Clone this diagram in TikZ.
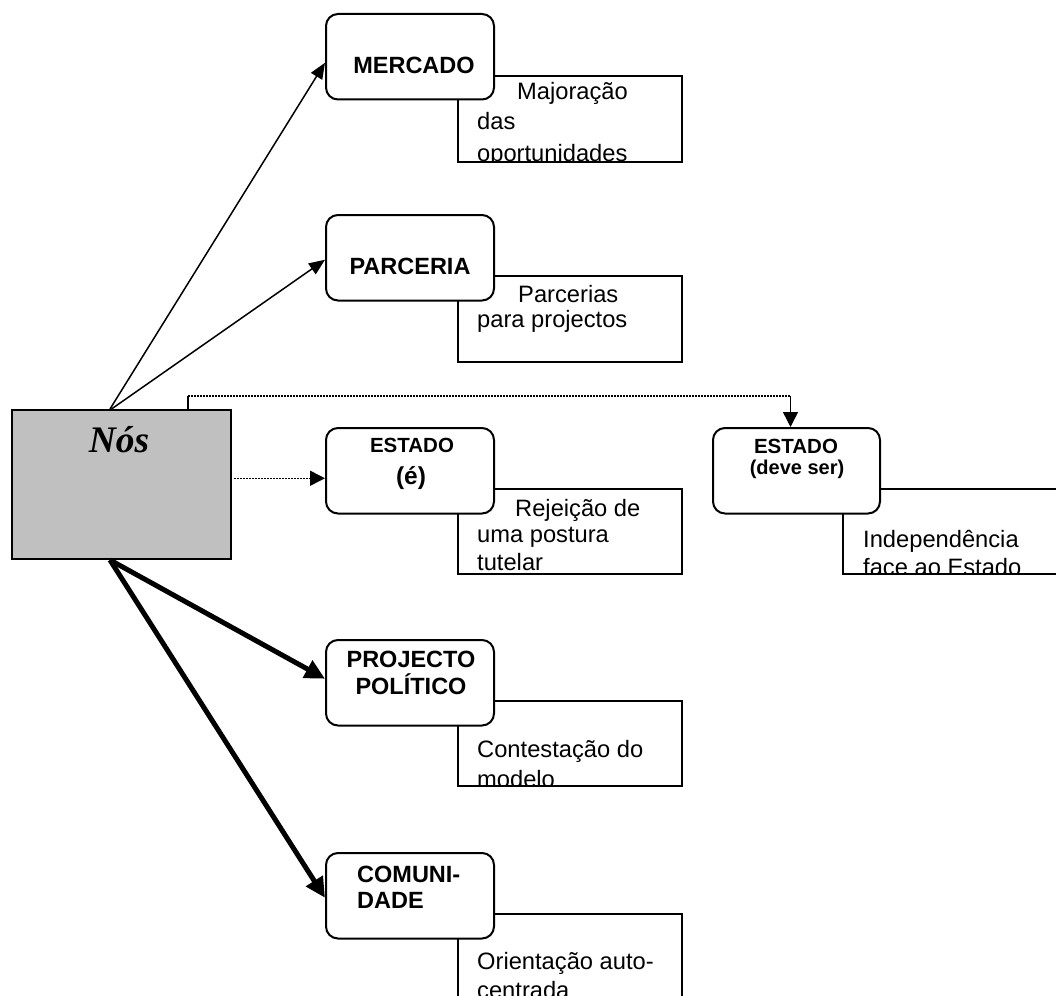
\documentclass[tikz,border=0pt]{standalone}
\usepackage{fontspec}
\setmainfont{Liberation Sans}
\newfontfamily\timesf{Liberation Serif}
\usetikzlibrary{arrows.meta}
\begin{document}
\begin{tikzpicture}[x=1pt,y=-1pt,
  rbox/.style={draw,line width=2pt,rounded corners=12pt,fill=white,minimum width=168pt,minimum height=85.5pt,inner sep=0pt,anchor=north west},
  tbox/.style={draw,line width=1.6pt,fill=white,minimum width=224pt,inner sep=0pt,anchor=north west},
  hd/.style={font=\fontsize{23.5}{27}\selectfont\bfseries,anchor=base,inner sep=0pt},
  hdl/.style={font=\fontsize{23.5}{27}\selectfont\bfseries,anchor=base west,inner sep=0pt},
  hds/.style={font=\fontsize{20.5}{24}\selectfont\bfseries,anchor=base,inner sep=0pt},
  txt/.style={font=\fontsize{23.7}{27}\selectfont,anchor=base west,inner sep=0pt},
  thinarr/.style={line width=1.5pt,-{Triangle[length=16pt,width=13pt]}},
  thickarr/.style={line width=5pt,-{Triangle[length=20pt,width=19pt]}},
  dotline/.style={line width=1.5pt,dash pattern=on 1.5pt off 1.5pt},
  dotarr/.style={dotline,-{Triangle[length=15pt,width=15pt]}},
  plain/.style={line width=1.5pt}
]
\useasboundingbox (0,0) rectangle (1056,995);
\clip (0,0) rectangle (1056,995);

% ---- text boxes (behind) ----
\node[tbox,minimum height=86pt] (tm) at (457,75) {};
\begin{scope}
\clip (tm.north west) rectangle ([yshift=0.8pt]tm.south east);
\node[txt] (tm1) at (517,100) {Majoração};
\node[txt] (tm2) at (477,130) {das};
\node[txt] (tm3) at (477,161) {oportunidades};
\end{scope}

\node[tbox,minimum height=86pt] (tp) at (457,275) {};
\node[txt] (tp1) at (518,302) {Parcerias};
\node[txt] (tp2) at (477,327) {para projectos};

\node[tbox,minimum height=85pt] (ta) at (457,488) {};
\begin{scope}
\clip (ta.north west) rectangle ([yshift=0.8pt]ta.south east);
\node[txt] (ta1) at (515,516) {Rejeição de};
\node[txt] (ta2) at (477,542) {uma postura};
\node[txt] (ta3) at (477,570) {tutelar};
\end{scope}

\node[tbox,minimum width=230pt,minimum height=85pt] (tb) at (842,488) {};
\begin{scope}
\clip (tb.north west) rectangle ([yshift=0.8pt]tb.south east);
\node[txt] (tb1) at (863,547) {Independência};
\node[txt] (tb2) at (863,575) {face ao Estado};
\end{scope}

\node[tbox,minimum height=85pt] (tj) at (457,700) {};
\begin{scope}
\clip (tj.north west) rectangle ([yshift=0.8pt]tj.south east);
\node[txt] (tj1) at (477,757) {Contestação do};
\node[txt] (tj2) at (477,787) {modelo};
\end{scope}

\node[tbox,minimum height=90pt] (tc) at (457,913) {};
\begin{scope}
\clip (tc.north west) rectangle (tc.south east);
\node[txt] (tc1) at (477,969) {Orientação auto-};
\node[txt] (tc2) at (477,998) {centrada};
\end{scope}

% ---- rounded boxes ----
\node[rbox] (merc) at (325,13) {};
\node[hd] (mercl) at (414,74) {MERCADO};

\node[rbox] (parc) at (325,214) {};
\node[hd] (parcl) at (410,274) {PARCERIA};

\node[rbox] (estA) at (325,427) {};
\node[hds] (estAl) at (412,452) {ESTADO};
\node[font=\fontsize{24.5}{28}\selectfont\bfseries,anchor=base,inner sep=0pt] (estAe) at (411,484) {(é)};

\node[rbox,minimum width=167pt] (estB) at (712,427) {};
\node[hds] (estBl) at (796,453) {ESTADO};
\node[font=\fontsize{20}{24}\selectfont\bfseries,anchor=base,inner sep=0pt] (estBd) at (797,474) {(deve ser)};

\node[rbox] (proj) at (325,639) {};
\node[hd] (projl1) at (411,667) {PROJECTO};
\node[hd] (projl2) at (411,694) {POLÍTICO};

\node[rbox] (comu) at (325,852) {};
\node[hdl] (comul1) at (357,882) {COMUNI-};
\node[hdl] (comul2) at (357,908) {DADE};

% ---- Nós ----
\node[draw,line width=2pt,fill={rgb,255:red,192;green,192;blue,192},minimum width=219pt,minimum height=149pt,anchor=north west,inner sep=0pt] (nos) at (11,409) {};
\node[font=\timesf\fontsize{37.5}{42}\selectfont\bfseries\itshape,anchor=base,inner sep=0pt] (nosl) at (119,452) {Nós};

% ---- connectors ----
\draw[thinarr] ([xshift=-11.5pt]nos.north) -- ([yshift=-6pt]merc.west);
\draw[thinarr] ([xshift=-10pt]nos.north) -- ([yshift=-2pt]parc.west);
\coordinate (e1) at ([yshift=-7.5pt]estA.west);
\draw[dotarr] ([xshift=2pt]nos.east |- e1) -- (e1);
\draw[thickarr] ([xshift=-11.5pt]nos.south) -- ([yshift=4pt]proj.west);
\draw[thickarr] ([xshift=-11.5pt]nos.south) -- ([yshift=-2pt]comu.west);

\coordinate (k1) at (188,396);
\coordinate (k2) at ([xshift=-6pt]estB.north |- k1);
\draw[plain] (nos.north -| k1) -- (k1);
\draw[dotline] (k1) -- (k2);
\draw[plain,-{Triangle[length=15pt,width=15pt]}] (k2) -- ([xshift=-6pt]estB.north);
\end{tikzpicture}
\end{document}
